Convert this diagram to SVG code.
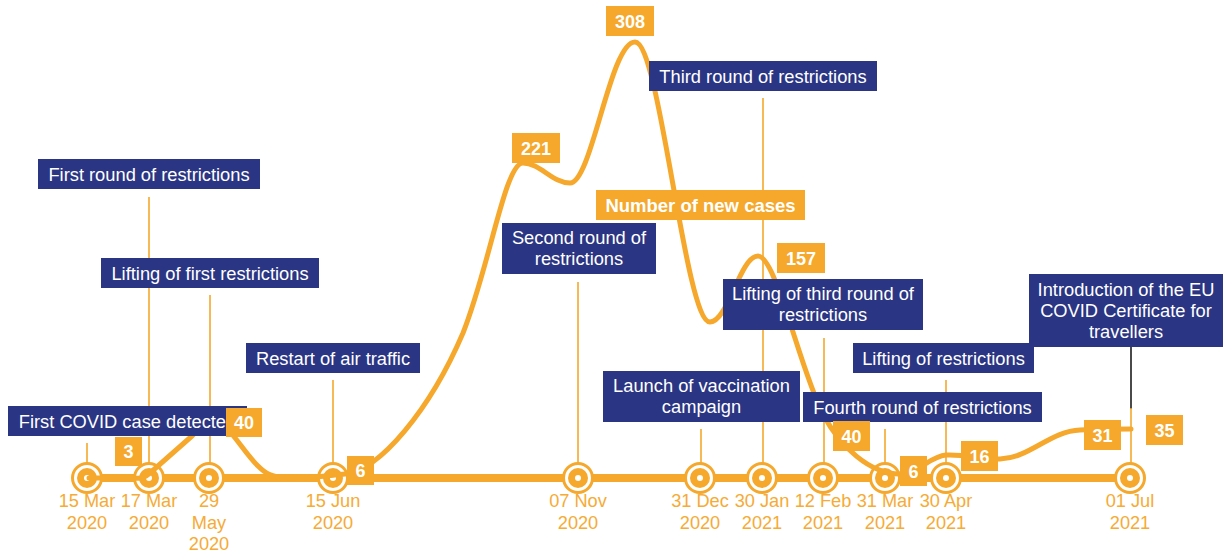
<svg xmlns="http://www.w3.org/2000/svg" width="1228" height="556" viewBox="0 0 1228 556">
<style>
.nb{fill:#2A3584}
.ob{fill:#F5A82B}
.nt{fill:#fff;font-family:"Liberation Sans",Arial,sans-serif;font-size:18.3px;text-anchor:middle}
.ot{fill:#fff;font-family:"Liberation Sans",Arial,sans-serif;font-size:18px;font-weight:bold;text-anchor:middle}
.dt{fill:#F6AB36;font-family:"Liberation Sans",Arial,sans-serif;font-size:18.2px;text-anchor:middle}
.cl{stroke:#F5A82B;stroke-width:1.6;fill:none}
</style>
<defs>
<g id="mk">
<circle r="14.5" fill="#fff" stroke="#F5A82B" stroke-width="3"/>
<circle r="10" fill="#F5A82B"/>
<circle r="3" fill="#fff"/>
</g>
</defs>
<g id="connectors">
<line class="cl" x1="87" y1="443" x2="87" y2="478"/>
<line class="cl" x1="149" y1="197" x2="149" y2="478"/>
<line class="cl" x1="210" y1="295" x2="210" y2="478"/>
<line class="cl" x1="333" y1="380" x2="333" y2="478"/>
<line class="cl" x1="578" y1="282" x2="578" y2="478"/>
<line class="cl" x1="701" y1="429" x2="701" y2="478"/>
<line class="cl" x1="763" y1="98" x2="763" y2="478"/>
<line class="cl" x1="824" y1="338" x2="824" y2="478"/>
<line class="cl" x1="885" y1="429" x2="885" y2="478"/>
<line class="cl" x1="946" y1="380" x2="946" y2="478"/>
<line x1="1131" y1="347" x2="1131" y2="409" stroke="#4a4a4a" stroke-width="2"/>
<line class="cl" x1="1131" y1="408" x2="1131" y2="478"/>
</g>
<g id="timeline">
<line x1="87" y1="478" x2="1130" y2="478" stroke="#F5A82B" stroke-width="8"/>
<use href="#mk" x="87" y="478"/>
<use href="#mk" x="149" y="478"/>
<use href="#mk" x="209" y="478"/>
<use href="#mk" x="333" y="478"/>
<use href="#mk" x="578" y="478"/>
<use href="#mk" x="700" y="478"/>
<use href="#mk" x="762" y="478"/>
<use href="#mk" x="823" y="478"/>
<use href="#mk" x="885" y="478"/>
<use href="#mk" x="946" y="478"/>
<use href="#mk" x="1130" y="478"/>
</g>
<g id="curve">
<path d="M89,478 L130,478 C140,478 142,480 150,473 L192,436 C200,428 206,421 212,421 C228,421 240,448 258,466 C266,474 272,477 285,478 C305,479 325,476 345,474 C380,470 430,410 463,333 C490,265 505,163 523,163 C540,163 552,183 570,183 C592,183 610,42 635,42 C660,42 685,322 710,322 C728,322 740,256 758,256 C776,256 800,370 823,414 C840,447 870,474 900,474 C918,474 930,456 946,455 C965,454 985,460 1000,459 C1030,458 1050,431 1080,430 C1100,429 1115,429 1131,429" fill="none" stroke="#F5A82B" stroke-width="5" stroke-linecap="round" stroke-linejoin="round"/>
</g>
<g id="dates">
<text class="dt" x="87" y="507">15 Mar</text><text class="dt" x="87" y="528.5">2020</text>
<text class="dt" x="149" y="507">17 Mar</text><text class="dt" x="149" y="528.5">2020</text>
<text class="dt" x="209" y="507">29</text><text class="dt" x="209" y="528.5">May</text><text class="dt" x="209" y="550">2020</text>
<text class="dt" x="333" y="507">15 Jun</text><text class="dt" x="333" y="528.5">2020</text>
<text class="dt" x="578" y="507">07 Nov</text><text class="dt" x="578" y="528.5">2020</text>
<text class="dt" x="700" y="507">31 Dec</text><text class="dt" x="700" y="528.5">2020</text>
<text class="dt" x="762" y="507">30 Jan</text><text class="dt" x="762" y="528.5">2021</text>
<text class="dt" x="823" y="507">12 Feb</text><text class="dt" x="823" y="528.5">2021</text>
<text class="dt" x="885" y="507">31 Mar</text><text class="dt" x="885" y="528.5">2021</text>
<text class="dt" x="946" y="507">30 Apr</text><text class="dt" x="946" y="528.5">2021</text>
<text class="dt" x="1130" y="507">01 Jul</text><text class="dt" x="1130" y="528.5">2021</text>
</g>
<g id="n-first-round"><rect class="nb" x="38" y="159" width="222" height="30"/><text class="nt" x="149" y="181">First round of restrictions</text></g>
<g id="n-lifting-first"><rect class="nb" x="101" y="258" width="218" height="30"/><text class="nt" x="210" y="280">Lifting of first restrictions</text></g>
<g id="n-restart"><rect class="nb" x="246" y="343" width="174" height="30"/><text class="nt" x="333" y="365">Restart of air traffic</text></g>
<g id="n-first-case"><rect class="nb" x="8" y="406" width="239" height="30"/><text class="nt" x="127.5" y="428">First COVID case detected</text></g>
<g id="n-second-round"><rect class="nb" x="502" y="223" width="154" height="51"/><text class="nt" x="579" y="244">Second round of</text><text class="nt" x="579" y="265">restrictions</text></g>
<g id="n-third-round"><rect class="nb" x="649" y="61" width="228" height="30"/><text class="nt" x="763" y="83">Third round of restrictions</text></g>
<g id="n-vaccination"><rect class="nb" x="603" y="371" width="197" height="51"/><text class="nt" x="701.5" y="392">Launch of vaccination</text><text class="nt" x="701.5" y="413">campaign</text></g>
<g id="n-lifting-third"><rect class="nb" x="723" y="279" width="200" height="51"/><text class="nt" x="823" y="300">Lifting of third round of</text><text class="nt" x="823" y="321">restrictions</text></g>
<g id="n-lifting"><rect class="nb" x="853" y="343" width="181" height="30"/><text class="nt" x="943.5" y="365">Lifting of restrictions</text></g>
<g id="n-fourth-round"><rect class="nb" x="803" y="392" width="239" height="30"/><text class="nt" x="922.5" y="414">Fourth round of restrictions</text></g>
<g id="n-eu-cert"><rect class="nb" x="1029" y="274" width="194" height="73"/><text class="nt" x="1126" y="296">Introduction of the EU</text><text class="nt" x="1126" y="317">COVID Certificate for</text><text class="nt" x="1126" y="338">travellers</text></g>
<g id="v-3"><rect class="ob" x="115" y="437" width="27" height="29"/><text class="ot" x="128.5" y="458">3</text></g>
<g id="v-40a"><rect class="ob" x="226" y="408" width="36" height="29"/><text class="ot" x="244" y="429">40</text></g>
<g id="v-6a"><rect class="ob" x="347" y="456" width="27" height="29"/><text class="ot" x="360.5" y="477">6</text></g>
<g id="v-221"><rect class="ob" x="512" y="133" width="48" height="30"/><text class="ot" x="536" y="154.5">221</text></g>
<g id="v-308"><rect class="ob" x="606" y="6" width="48" height="30"/><text class="ot" x="630" y="27.5">308</text></g>
<g id="n-cases"><rect class="ob" x="596" y="190" width="209" height="30"/><text class="ot" x="700.5" y="211.5" style="font-size:18.5px">Number of new cases</text></g>
<g id="v-157"><rect class="ob" x="777" y="243" width="48" height="30"/><text class="ot" x="801" y="264.5">157</text></g>
<g id="v-40b"><rect class="ob" x="833" y="421" width="37" height="30"/><text class="ot" x="851.5" y="442.5">40</text></g>
<g id="v-6b"><rect class="ob" x="900" y="456" width="27" height="30"/><text class="ot" x="913.5" y="477.5">6</text></g>
<g id="v-16"><rect class="ob" x="961" y="441" width="37" height="30"/><text class="ot" x="979.5" y="462.5">16</text></g>
<g id="v-31"><rect class="ob" x="1084" y="420" width="37" height="30"/><text class="ot" x="1102.5" y="441.5">31</text></g>
<g id="v-35"><rect class="ob" x="1146" y="415" width="37" height="30"/><text class="ot" x="1164.5" y="436.5">35</text></g>
</svg>
